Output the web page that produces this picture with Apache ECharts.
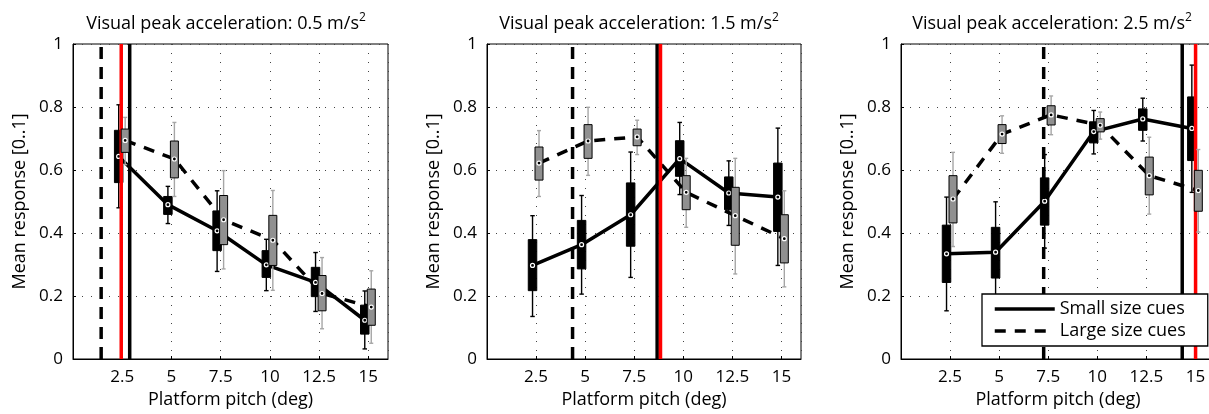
<!DOCTYPE html>
<html>
<head>
<meta charset="utf-8">
<script src="https://cdn.jsdelivr.net/npm/echarts/dist/echarts.min.js"></script>
<style>
  html, body { margin: 0; padding: 0; background: #fff; }
  #chart { width: 1209px; height: 414px; }
</style>
</head>
<body>
<div id="chart"></div>
<script>
// ---------------- DATA ----------------
const pitchTicks = [2.5, 5, 7.5, 10, 12.5, 15];          // platform pitch (deg)
const accelLabels = ['0.5', '1.5', '2.5'];                // visual peak acceleration (m/s^2)
const yTicks = [0, 0.2, 0.4, 0.6, 0.8, 1];

// each row: [lower whisker, Q1, mean, Q3, upper whisker] for one pitch
const small_05 = [
  [0.48, 0.56, 0.643, 0.726, 0.807],
  [0.43, 0.459, 0.490, 0.516, 0.548],
  [0.278, 0.344, 0.407, 0.470, 0.534],
  [0.217, 0.259, 0.299, 0.344, 0.38],
  [0.151, 0.198, 0.243, 0.291, 0.338],
  [0.032, 0.079, 0.123, 0.171, 0.216]
];
const large_05 = [
  [0.617, 0.656, 0.694, 0.730, 0.767],
  [0.516, 0.575, 0.635, 0.692, 0.751],
  [0.286, 0.363, 0.442, 0.519, 0.598],
  [0.218, 0.297, 0.377, 0.456, 0.535],
  [0.096, 0.153, 0.208, 0.265, 0.322],
  [0.050, 0.107, 0.165, 0.222, 0.280]
];
const small_15 = [
  [0.135, 0.217, 0.297, 0.379, 0.455],
  [0.206, 0.286, 0.363, 0.440, 0.519],
  [0.259, 0.358, 0.458, 0.559, 0.657],
  [0.522, 0.580, 0.636, 0.693, 0.751],
  [0.424, 0.474, 0.527, 0.578, 0.629],
  [0.297, 0.405, 0.514, 0.622, 0.733]
];
const large_15 = [
  [0.516, 0.568, 0.622, 0.673, 0.725],
  [0.583, 0.637, 0.692, 0.744, 0.799],
  [0.649, 0.677, 0.705, 0.730, 0.758],
  [0.418, 0.474, 0.529, 0.582, 0.637],
  [0.270, 0.361, 0.455, 0.545, 0.637],
  [0.229, 0.305, 0.382, 0.458, 0.534]
];
const small_25 = [
  [0.153, 0.243, 0.334, 0.425, 0.514],
  [0.178, 0.257, 0.339, 0.418, 0.499],
  [0.352, 0.425, 0.501, 0.575, 0.649],
  [0.651, 0.686, 0.722, 0.753, 0.789],
  [0.692, 0.726, 0.762, 0.794, 0.828],
  [0.529, 0.630, 0.732, 0.832, 0.933]
];
const large_25 = [
  [0.357, 0.432, 0.508, 0.582, 0.656],
  [0.653, 0.684, 0.714, 0.744, 0.772],
  [0.712, 0.743, 0.775, 0.804, 0.835],
  [0.698, 0.721, 0.742, 0.763, 0.784],
  [0.460, 0.521, 0.582, 0.641, 0.704],
  [0.403, 0.469, 0.535, 0.599, 0.665]
];

// vertical reference lines (pitch, deg) per panel
const thresholdSmall = [2.88, 8.67, 14.33];   // solid black
const thresholdLarge = [1.43, 4.36, 7.27];    // dashed black
const thresholdRef   = [2.45, 8.84, 15.01];   // red

// ---------------- LAYOUT / STYLE ----------------
const FONT = '"Open Sans", "Noto Sans", sans-serif';
const SMALL_DX = -0.18;   // dodge of small-cue boxes (data units)
const LARGE_DX = 0.15;    // dodge of large-cue boxes (data units)
const panels = [
  { small: small_05, large: large_05, left: 73,  width: 315, titleX: 221 },
  { small: small_15, large: large_15, left: 487, width: 314, titleX: 634 },
  { small: small_25, large: large_25, left: 901, width: 314, titleX: 1047 }
];

function boxRenderer(dx, boxW, fill, stroke, whisk, capW) {
  return function (params, api) {
    const x = api.value(0) + dx;
    const pLo = api.coord([x, api.value(1)]);
    const pQ1 = api.coord([x, api.value(2)]);
    const pM  = api.coord([x, api.value(3)]);
    const pQ3 = api.coord([x, api.value(4)]);
    const pHi = api.coord([x, api.value(5)]);
    const cx = pLo[0];
    const ws = { stroke: whisk, lineWidth: 1.4 };
    return {
      type: 'group',
      children: [
        { type: 'line', shape: { x1: cx, y1: pHi[1], x2: cx, y2: pLo[1] }, style: ws },
        { type: 'line', shape: { x1: cx - capW / 2, y1: pHi[1], x2: cx + capW / 2, y2: pHi[1] }, style: ws },
        { type: 'line', shape: { x1: cx - capW / 2, y1: pLo[1], x2: cx + capW / 2, y2: pLo[1] }, style: ws },
        { type: 'rect', shape: { x: cx - boxW / 2, y: pQ3[1], width: boxW, height: pQ1[1] - pQ3[1] },
          style: { fill: fill, stroke: stroke, lineWidth: 1 } },
        { type: 'circle', shape: { cx: cx, cy: pM[1], r: 2 },
          style: { fill: '#000', stroke: '#fff', lineWidth: 1.2 } }
      ]
    };
  };
}

const grids = [], xAxes = [], yAxes = [], series = [], titles = [];
panels.forEach((p, i) => {
  grids.push({
    left: p.left, top: 44, width: p.width, height: 315,
    show: true, borderColor: '#000', borderWidth: 1, backgroundColor: 'transparent',
    containLabel: false, outerBoundsMode: 'none'
  });
  xAxes.push({
    type: 'value', gridIndex: i, min: 0, max: 16, interval: 2.5,
    name: 'Platform pitch (deg)', nameLocation: 'middle', nameGap: 31,
    nameTextStyle: { fontSize: 18, color: '#000', fontFamily: FONT },
    axisLine: { show: true, lineStyle: { color: '#000', width: 1 } },
    axisTick: { show: true, inside: true, length: 3, lineStyle: { color: '#000' } },
    axisLabel: {
      fontSize: 17, color: '#000', fontFamily: FONT, margin: 10,
      showMinLabel: false, showMaxLabel: false,
      formatter: v => (pitchTicks.indexOf(v) >= 0 ? String(v) : '')
    },
    splitLine: { show: true, lineStyle: { color: '#444', width: 1, type: [1, 8] } }
  });
  yAxes.push({
    type: 'value', gridIndex: i, min: 0, max: 1, interval: 0.2,
    name: 'Mean response [0..1]', nameLocation: 'middle', nameGap: 44,
    nameTextStyle: { fontSize: 18, color: '#000', fontFamily: FONT },
    axisLine: { show: true, lineStyle: { color: '#000', width: 1 } },
    axisTick: { show: true, inside: true, length: 3, lineStyle: { color: '#000' } },
    axisLabel: {
      fontSize: 17, color: '#000', fontFamily: FONT, margin: 10,
      formatter: v => (yTicks.indexOf(v) >= 0 ? String(v) : '')
    },
    splitLine: { show: true, lineStyle: { color: '#444', width: 1, type: [1, 8] } }
  });
  titles.push({
    text: '{m|Visual peak acceleration: ' + accelLabels[i] + ' m/s}{s|2}',
    left: p.titleX, top: 7, textAlign: 'center',
    textStyle: {
      fontFamily: FONT, fontWeight: 'normal', color: '#000',
      rich: {
        m: { fontSize: 18, fontFamily: FONT, color: '#000', lineHeight: 24 },
        s: { fontSize: 12, fontFamily: FONT, color: '#000', lineHeight: 16, verticalAlign: 'top' }
      }
    }
  });

  // mean curves
  series.push({
    name: 'Small size cues', type: 'line', xAxisIndex: i, yAxisIndex: i,
    data: pitchTicks.map((x, j) => [x + SMALL_DX, p.small[j][2]]),
    symbol: 'none', lineStyle: { color: '#000', width: 3.5, type: 'solid' },
    itemStyle: { color: '#000' }, z: 2, silent: true
  });
  series.push({
    name: 'Large size cues', type: 'line', xAxisIndex: i, yAxisIndex: i,
    data: pitchTicks.map((x, j) => [x + LARGE_DX, p.large[j][2]]),
    symbol: 'none', lineStyle: { color: '#000', width: 3.5, type: [11, 9] },
    itemStyle: { color: '#000' }, z: 2, silent: true
  });
  // small-cue boxes (black)
  series.push({
    name: 'small boxes', type: 'custom', xAxisIndex: i, yAxisIndex: i,
    data: pitchTicks.map((x, j) => [x].concat(p.small[j])),
    encode: { x: 0, y: [1, 2, 3, 4, 5] },
    renderItem: boxRenderer(SMALL_DX, 8.5, '#000', '#000', '#000', 4.5),
    z: 3, silent: true
  });
  // vertical threshold lines
  series.push({
    name: 'thr large', type: 'line', xAxisIndex: i, yAxisIndex: i,
    data: [[thresholdLarge[i], 0], [thresholdLarge[i], 1]],
    symbol: 'none', lineStyle: { color: '#000', width: 3.5, type: [12, 8] }, z: 4, silent: true
  });
  series.push({
    name: 'thr small', type: 'line', xAxisIndex: i, yAxisIndex: i,
    data: [[thresholdSmall[i], 0], [thresholdSmall[i], 1]],
    symbol: 'none', lineStyle: { color: '#000', width: 3.5, type: 'solid' }, z: 4, silent: true
  });
  series.push({
    name: 'thr ref', type: 'line', xAxisIndex: i, yAxisIndex: i,
    data: [[thresholdRef[i], 0], [thresholdRef[i], 1]],
    symbol: 'none', lineStyle: { color: '#ff0000', width: 3.5, type: 'solid' }, z: 4, silent: true
  });
  // large-cue boxes (gray)
  series.push({
    name: 'large boxes', type: 'custom', xAxisIndex: i, yAxisIndex: i,
    data: pitchTicks.map((x, j) => [x].concat(p.large[j])),
    encode: { x: 0, y: [1, 2, 3, 4, 5] },
    renderItem: boxRenderer(LARGE_DX, 8, '#909090', '#000', '#a6a6a6', 4),
    z: 5, silent: true
  });
});

const chart = echarts.init(document.getElementById('chart'), null, { renderer: 'canvas' });
chart.setOption({
  animation: false,
  backgroundColor: '#fff',
  title: titles,
  grid: grids,
  xAxis: xAxes,
  yAxis: yAxes,
  legend: {
    data: ['Small size cues', 'Large size cues'],
    orient: 'vertical', left: 982, top: 294,
    itemWidth: 60, itemHeight: 20, itemGap: 4,
    padding: [6, 22, 6, 11],
    backgroundColor: '#fff', borderColor: '#000', borderWidth: 1.3,
    selectedMode: false, z: 10,
    itemStyle: { color: 'transparent', borderWidth: 0, opacity: 0 },
    lineStyle: { width: 3.5, color: '#000' },
    textStyle: { fontSize: 18, color: '#000', fontFamily: FONT }
  },
  series: series
});
</script>
</body>
</html>
